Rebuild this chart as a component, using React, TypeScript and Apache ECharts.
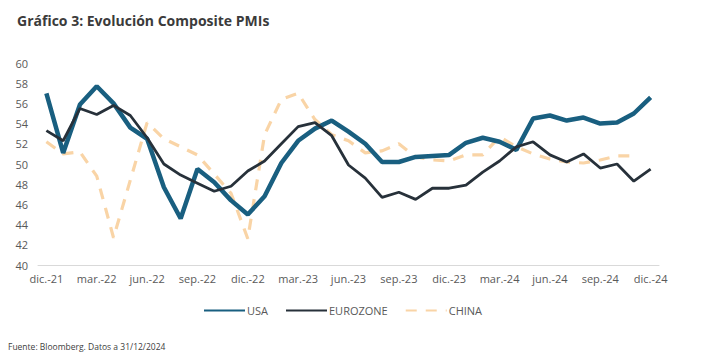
import React, { useEffect, useRef } from "react";
import * as echarts from "echarts";

const months = [
  "dic.-21", "ene.-22", "feb.-22", "mar.-22", "abr.-22", "may.-22", "jun.-22", "jul.-22", "ago.-22", "sep.-22", "oct.-22", "nov.-22",
  "dic.-22", "ene.-23", "feb.-23", "mar.-23", "abr.-23", "may.-23", "jun.-23", "jul.-23", "ago.-23", "sep.-23", "oct.-23", "nov.-23",
  "dic.-23", "ene.-24", "feb.-24", "mar.-24", "abr.-24", "may.-24", "jun.-24", "jul.-24", "ago.-24", "sep.-24", "oct.-24", "nov.-24",
  "dic.-24",
];

const usa = [
  57.0, 51.1, 55.9, 57.7, 56.0, 53.6, 52.5, 47.7, 44.6, 49.5, 48.2, 46.4,
  45.0, 46.8, 50.1, 52.3, 53.5, 54.3, 53.2, 52.0, 50.2, 50.2, 50.7, 50.8,
  50.9, 52.1, 52.6, 52.2, 51.4, 54.5, 54.8, 54.3, 54.6, 54.0, 54.1, 55.0,
  56.6,
];

const eurozone = [
  53.3, 52.3, 55.5, 54.9, 55.8, 54.8, 52.6, 50.0, 48.9, 48.1, 47.3, 47.8,
  49.3, 50.3, 52.0, 53.7, 54.1, 52.8, 49.9, 48.6, 46.7, 47.2, 46.5, 47.6,
  47.6, 47.9, 49.2, 50.3, 51.7, 52.2, 50.9, 50.2, 51.0, 49.6, 50.0, 48.3,
  49.5,
];

const china = [
  52.2, 51.0, 51.2, 48.8, 42.7, 48.4, 54.1, 52.5, 51.7, 50.9, 49.0, 47.1,
  42.6, 52.9, 56.4, 57.0, 54.4, 52.9, 52.3, 51.1, 51.3, 52.0, 50.7, 50.4,
  50.3, 50.9, 50.9, 52.7, 51.7, 51.0, 50.5, 50.2, 50.1, 50.4, 50.8, 50.8,
  null,
];

const FONT = "'Open Sans', 'DejaVu Sans', sans-serif";

export default function App() {
  const ref = useRef<HTMLDivElement>(null);
  useEffect(() => {
    if (!ref.current) return;
    const chart = echarts.init(ref.current, null, { renderer: "svg" });
    chart.setOption({
      animation: false,
      backgroundColor: "#ffffff",
      title: {
        text: "Gráfico 3: Evolución Composite PMIs",
        left: 12,
        top: 8,
        textStyle: { fontFamily: FONT, fontSize: 14, fontWeight: "bold", color: "#3b3b3b" },
      },
      graphic: [
        {
          type: "text",
          left: 8,
          top: 342,
          style: { text: "Fuente: Bloomberg. Datos a 31/12/2024", font: `8.5px ${FONT}`, fill: "#404040" },
        },
      ],
      legend: {
        top: 300,
        left: 198,
        itemWidth: 41,
        itemHeight: 14,
        itemGap: 17,
        itemStyle: { opacity: 0 },
        textStyle: { fontFamily: FONT, fontSize: 11, color: "#595959", padding: [0, 0, 0, -3] },
        data: ["USA", "EUROZONE", "CHINA"],
      },
      grid: { left: 38, right: 50, top: 63, bottom: 95 },
      xAxis: {
        type: "category",
        data: months,
        boundaryGap: true,
        axisLine: { lineStyle: { color: "#d9d9d9", width: 1 } },
        axisTick: { interval: 2, length: 5, lineStyle: { color: "#d9d9d9" } },
        axisLabel: { interval: 2, color: "#595959", fontFamily: FONT, fontSize: 11, margin: 8 },
        splitLine: { show: false },
      },
      yAxis: {
        type: "value",
        min: 40,
        max: 60,
        interval: 2,
        axisLine: { show: false },
        axisTick: { show: false },
        splitLine: { show: false },
        axisLabel: { color: "#595959", fontFamily: FONT, fontSize: 11, margin: 10 },
      },
      series: [
        {
          name: "USA",
          type: "line",
          data: usa,
          symbol: "none",
          z: 3,
          color: "#195f80",
          lineStyle: { color: "#195f80", width: 4.5 },
        },
        {
          name: "EUROZONE",
          type: "line",
          data: eurozone,
          symbol: "none",
          z: 4,
          color: "#27313a",
          lineStyle: { color: "#27313a", width: 2.8 },
        },
        {
          name: "CHINA",
          type: "line",
          data: china,
          symbol: "none",
          z: 2,
          color: "#f9d4a6",
          lineStyle: { color: "#f9d4a6", width: 3.2, type: [11, 9] },
        },
      ],
    });
    return () => chart.dispose();
  }, []);
  return <div ref={ref} style={{ width: 709, height: 360, position: "absolute", left: 0, top: 0 }} />;
}
